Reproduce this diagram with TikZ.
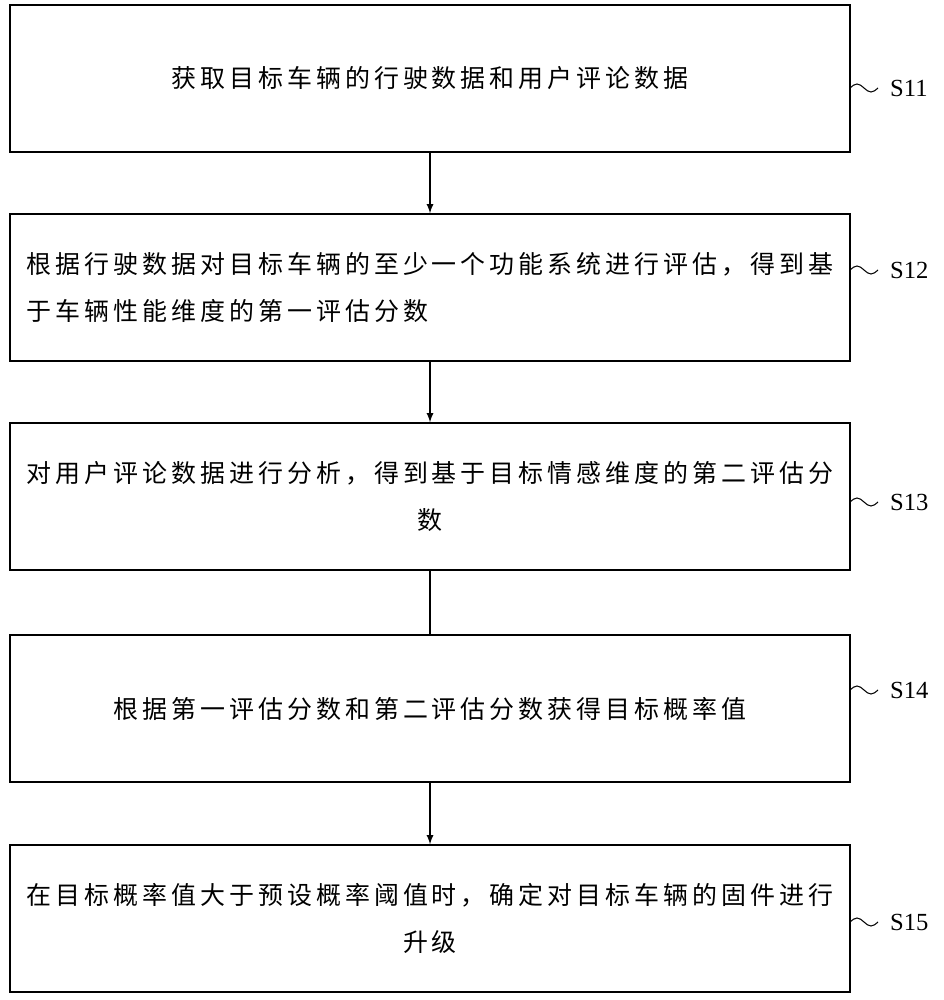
\documentclass[tikz,border=0pt]{standalone}
\usepackage{fontspec}
\setmainfont{Liberation Serif}
\newfontfamily\cjk[LetterSpace=16]{Noto Sans CJK SC}
\begin{document}
\begin{tikzpicture}[x=0.02cm, y=-0.02cm]
\tikzset{stepbox/.style={draw=black, line width=0.8pt, minimum width=16.8cm, minimum height=2.94cm, inner sep=0pt, font=\cjk\fontsize{14.2}{27}\selectfont},
f/.style={->, >=latex, line width=0.8pt},
lab/.style={font=\fontsize{14}{16}\selectfont, anchor=west}};
\useasboundingbox (0,0) rectangle (943,1000);

\node[stepbox] (s11) at (430, 78.5) {获取目标车辆的行驶数据和用户评论数据};
\node[stepbox, align=left] (s12) at (430, 287.5) {根据行驶数据对目标车辆的至少一个功能系统进行评估，得到基\\于车辆性能维度的第一评估分数};
\node[stepbox, align=center] (s13) at (430, 496.5) {对用户评论数据进行分析，得到基于目标情感维度的第二评估分\\数};
\node[stepbox] (s14) at (430, 708.5) {根据第一评估分数和第二评估分数获得目标概率值};
\node[stepbox, align=center] (s15) at (430, 918.5) {在目标概率值大于预设概率阈值时，确定对目标车辆的固件进行\\升级};

\draw[f] (s11) -- (s12);
\draw[f] (s12) -- (s13);
\draw[line width=0.8pt] (s13) -- (s14);
\draw[f] (s14) -- (s15);

\foreach \n/\y in {11/88, 12/270, 13/502, 14/690, 15/922} {
	\draw[line width=0.6pt] (850,\y) sin (857,\y-4) cos (864,\y) sin (871,\y+4) cos (878,\y);
	\node[lab] (l\n) at (884,\y) {S\n};
}
\end{tikzpicture}
\end{document}
